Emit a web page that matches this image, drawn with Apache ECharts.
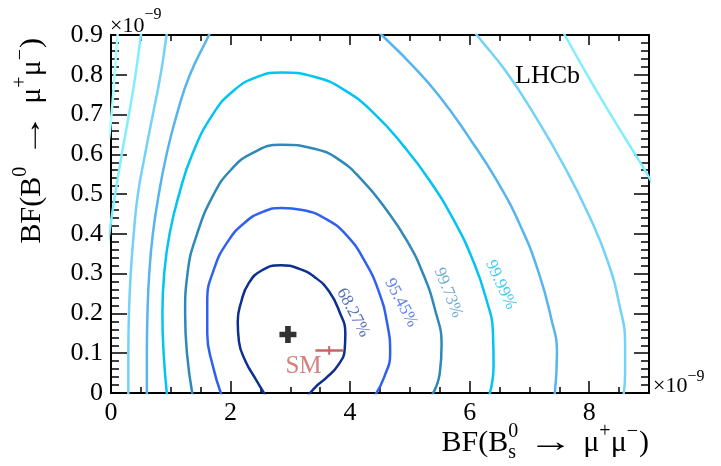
<!DOCTYPE html>
<html><head><meta charset="utf-8">
<script src="https://cdn.jsdelivr.net/npm/echarts@6/dist/echarts.min.js"></script>
<style>html,body{margin:0;padding:0;background:#fff}#c{width:721px;height:466px}</style>
</head><body><div id="c"></div>
<script>
// ---------------- data (units of 1e-9) ----------------
const xTicks = [0, 2, 4, 6, 8];
const yTicks = [0, 0.1, 0.2, 0.3, 0.4, 0.5, 0.6, 0.7, 0.8, 0.9];

// 68.27% contour
const c6827 = [[2.6,-0.01],[2.42,0.035],[2.25,0.08],[2.14,0.13],[2.12,0.18],[2.18,0.23],[2.3,0.275],[2.52,0.308],[2.84,0.321],[3.15,0.312],[3.42,0.29],[3.65,0.255],[3.82,0.205],[3.92,0.15],[3.91,0.11],[3.8,0.07],[3.6,0.038],[3.42,0.015],[3.28,-0.01]];
// 95.45% contour
const c9545 = [[1.86,-0.01],[1.7,0.07],[1.61,0.15],[1.61,0.23],[1.72,0.31],[1.95,0.38],[2.25,0.43],[2.55,0.456],[2.85,0.465],[3.2,0.46],[3.6,0.437],[3.95,0.395],[4.25,0.33],[4.48,0.255],[4.62,0.175],[4.67,0.1],[4.57,0.04],[4.4,-0.01]];
// 99.73% contour
const c9973 = [[1.37,-0.01],[1.27,0.1],[1.24,0.2],[1.28,0.3],[1.44,0.4],[1.72,0.5],[2.0,0.56],[2.35,0.602],[2.85,0.624],[3.4,0.614],[3.8,0.588],[4.2,0.535],[4.6,0.462],[4.95,0.383],[5.22,0.3],[5.42,0.21],[5.53,0.12],[5.5,0.05],[5.35,-0.01]];
// 99.99% contour
const c9999 = [[0.94,-0.01],[0.88,0.1],[0.86,0.2],[0.89,0.3],[0.98,0.4],[1.14,0.5],[1.36,0.6],[1.7,0.7],[2.05,0.76],[2.45,0.795],[2.85,0.806],[3.4,0.795],[3.9,0.762],[4.4,0.703],[4.9,0.62],[5.35,0.53],[5.75,0.43],[6.05,0.335],[6.27,0.24],[6.39,0.15],[6.4,0.07],[6.32,-0.01]];
// outer contours (cut by the frame)
const c5Left  = [[1.76,0.94],[1.64,0.9],[1.32,0.8],[1.1,0.7],[0.93,0.6],[0.8,0.5],[0.7,0.4],[0.64,0.3],[0.61,0.2],[0.6,0.1],[0.6,-0.02]];
const c5Right = [[4.4,0.92],[4.53,0.9],[5.0,0.83],[5.5,0.745],[6.0,0.64],[6.45,0.535],[6.85,0.42],[7.15,0.305],[7.36,0.19],[7.46,0.1],[7.41,-0.02]];
const c6Left  = [[0.97,0.94],[0.93,0.9],[0.83,0.8],[0.7,0.7],[0.57,0.6],[0.45,0.5],[0.38,0.4],[0.33,0.3],[0.3,0.2],[0.29,0.1],[0.29,-0.02]];
const c6Right = [[5.98,0.93],[6.12,0.9],[6.6,0.81],[7.1,0.695],[7.6,0.565],[8.0,0.445],[8.3,0.335],[8.5,0.225],[8.6,0.12],[8.6,0.05],[8.56,-0.02]];
const c7Left  = [[0.53,0.94],[0.5,0.9],[0.41,0.8],[0.3,0.7],[0.18,0.6],[0.07,0.5],[-0.02,0.41],[-0.08,0.34]];
const c7Right = [[7.5,0.93],[7.59,0.9],[8.18,0.745],[8.62,0.636],[8.96,0.553],[9.15,0.5]];
const c8Left  = [[0.13,0.94],[0.11,0.9],[0.06,0.8],[0.02,0.72],[-0.03,0.64]];

const bestFit = [[2.96, 0.147]];
const smX = 3.65, smXErr = 0.23, smY = 0.107, smYErr = 0.011;
const smLabelPos = [3.22, 0.066];
const levelNames = ['68.27%', '95.45%', '99.73%', '99.99%'];
const levelLabelPos = [[4.05,0.202],[4.85,0.227],[5.64,0.252],[6.52,0.272]];

// ---------------- styles ----------------
const F = 'Liberation Serif';
const colors = ['#0d2f8f','#3060f0','#2e88b8','#00c4f2','#56b4ee','#72d2f8','#80eeff','#aaffff'];
const labelColors = ['#2a4aa8','#3a64e8','#4a98c8','#10c0f0'];
const labelRot = [-62, -62, -68, -65];

const chart = echarts.init(document.getElementById('c'), null, {renderer: 'canvas'});

function near(v, arr) { return arr.some(a => Math.abs(a - v) < 1e-6); }
function fmt(v) { return String(Math.round(v * 10) / 10); }

function xAx(pos, interval, len, labels) {
  return {
    type: 'value', position: pos, min: 0, max: 9, interval: interval,
    axisLine: {show: true, onZero: false, lineStyle: {color: '#000', width: 2}},
    axisTick: {show: true, inside: true, length: len, lineStyle: {color: '#000', width: 1.5}},
    axisLabel: labels ? {show: true, margin: 7, fontFamily: F, fontSize: 26, color: '#000',
      showMaxLabel: false, formatter: v => near(v, xTicks) ? fmt(v) : ''} : {show: false},
    splitLine: {show: false}
  };
}
function yAx(pos, interval, len, labels) {
  return {
    type: 'value', position: pos, min: 0, max: 0.9, interval: interval,
    axisLine: {show: true, onZero: false, lineStyle: {color: '#000', width: 2}},
    axisTick: {show: true, inside: true, length: len, lineStyle: {color: '#000', width: 1.5}},
    axisLabel: labels ? {show: true, margin: 8, fontFamily: F, fontSize: 26, color: '#000',
      formatter: v => near(v, yTicks) ? fmt(v) : ''} : {show: false},
    splitLine: {show: false}
  };
}

function contour(data, ci) {
  return {type: 'line', data: data, smooth: 0.5, symbol: 'none', clip: true, silent: true,
    lineStyle: {color: colors[ci], width: 2.5}, z: 3};
}

const series = [
  contour(c8Left, 7),
  contour(c7Left, 6), contour(c7Right, 6),
  contour(c6Left, 5), contour(c6Right, 5),
  contour(c5Left, 4), contour(c5Right, 4),
  contour(c9999, 3), contour(c9973, 2), contour(c9545, 1), contour(c6827, 0),
  {type: 'scatter', data: levelLabelPos.map((p, i) => ({value: p,
      label: {show: true, position: 'inside', formatter: levelNames[i], rotate: labelRot[i],
        color: labelColors[i], fontFamily: F, fontSize: 17}})),
    symbolSize: 0, silent: true, z: 4},
  {type: 'line', data: [[smX - smXErr, smY], [smX + smXErr, smY]], symbol: 'none',
    lineStyle: {color: '#c86464', width: 2.5}, z: 5},
  {type: 'line', data: [[smX, smY - smYErr], [smX, smY + smYErr]], symbol: 'none',
    lineStyle: {color: '#c86464', width: 2}, z: 5},
  {type: 'scatter', data: [{value: smLabelPos, label: {show: true, position: 'inside', formatter: 'SM',
      color: '#c8605f', fontFamily: F, fontSize: 25}}], symbolSize: 0, silent: true, z: 5},
  {type: 'scatter', data: bestFit, symbol: 'path://M1,0H2V1H3V2H2V3H1V2H0V1H1Z', symbolSize: 17,
    itemStyle: {color: '#000'}, z: 6}
];

// ---- text helpers (titles with super/subscripts) ----
const cv = document.createElement('canvas').getContext('2d');
function tw(t, s) { cv.font = s + 'px "' + F + '"'; return cv.measureText(t).width; }
function run(parts, x0, yMid) {
  let x = x0; const els = [];
  parts.forEach(p => {
    const sx = p.sx || 1;
    els.push({type: 'text', x: x, y: yMid + (p.dy || 0), scaleX: sx,
      style: {text: p.t, fontSize: p.s, fontFamily: F, fill: p.c || '#000', align: 'left', verticalAlign: 'middle'}});
    if (!p.stack) x += tw(p.t, p.s) * sx + (p.gap || 0);
  });
  return {els: els, width: x - x0};
}
const M = 30, S = 20;
const xTitleParts = [{t: 'BF(B', s: M}, {t: 's', s: S, dy: 10, stack: true}, {t: '0', s: S, dy: -11, gap: 10},
  {t: '\u2192', s: M, sx: 1.5, gap: 10}, {t: '\u03bc', s: M}, {t: '+', s: S, dy: -11}, {t: '\u03bc', s: M}, {t: '\u2212', s: S, dy: -11, gap: 1}, {t: ')', s: M}];
const yTitleParts = [{t: 'BF(B', s: M}, {t: '0', s: S, dy: -11, gap: 9},
  {t: '\u2192', s: M, sx: 1.5, gap: 9}, {t: '\u03bc', s: M}, {t: '+', s: S, dy: -11}, {t: '\u03bc', s: M}, {t: '\u2212', s: S, dy: -11, gap: 1}, {t: ')', s: M}];
const xw = run(xTitleParts, 0, 0).width;
const xTitle = run(xTitleParts, 649 - xw, 443).els;
const yw = run(yTitleParts, 0, 0).width;
const yTitle = run(yTitleParts, -yw, 0).els;
const expTL = run([{t: '\u00d710', s: 22}, {t: '\u22129', s: 16, dy: -11}], 110, 26).els;
const expBR = run([{t: '\u00d710', s: 22}, {t: '\u22129', s: 16, dy: -9}], 653, 386).els;

const graphic = [].concat(xTitle, expTL, expBR, [
  {type: 'group', x: 32, y: 38, rotation: Math.PI / 2, children: yTitle},
  {type: 'text', x: 515, y: 76, style: {text: 'LHCb', fontSize: 26, fontFamily: F, fill: '#000', align: 'left', verticalAlign: 'middle'}}
]);

chart.setOption({
  animation: false,
  backgroundColor: '#fff',
  grid: {left: 111, right: 72, top: 35, bottom: 73, containLabel: false},
  xAxis: [xAx('bottom', 2, 12, true), xAx('bottom', 0.5, 6, false), xAx('top', 2, 10, false), xAx('top', 0.5, 6, false)],
  yAxis: [yAx('left', 0.1, 16, true), yAx('left', 0.02, 8, false), yAx('right', 0.1, 15, false), yAx('right', 0.02, 8, false)],
  series: series,
  graphic: graphic
});
</script></body></html>
